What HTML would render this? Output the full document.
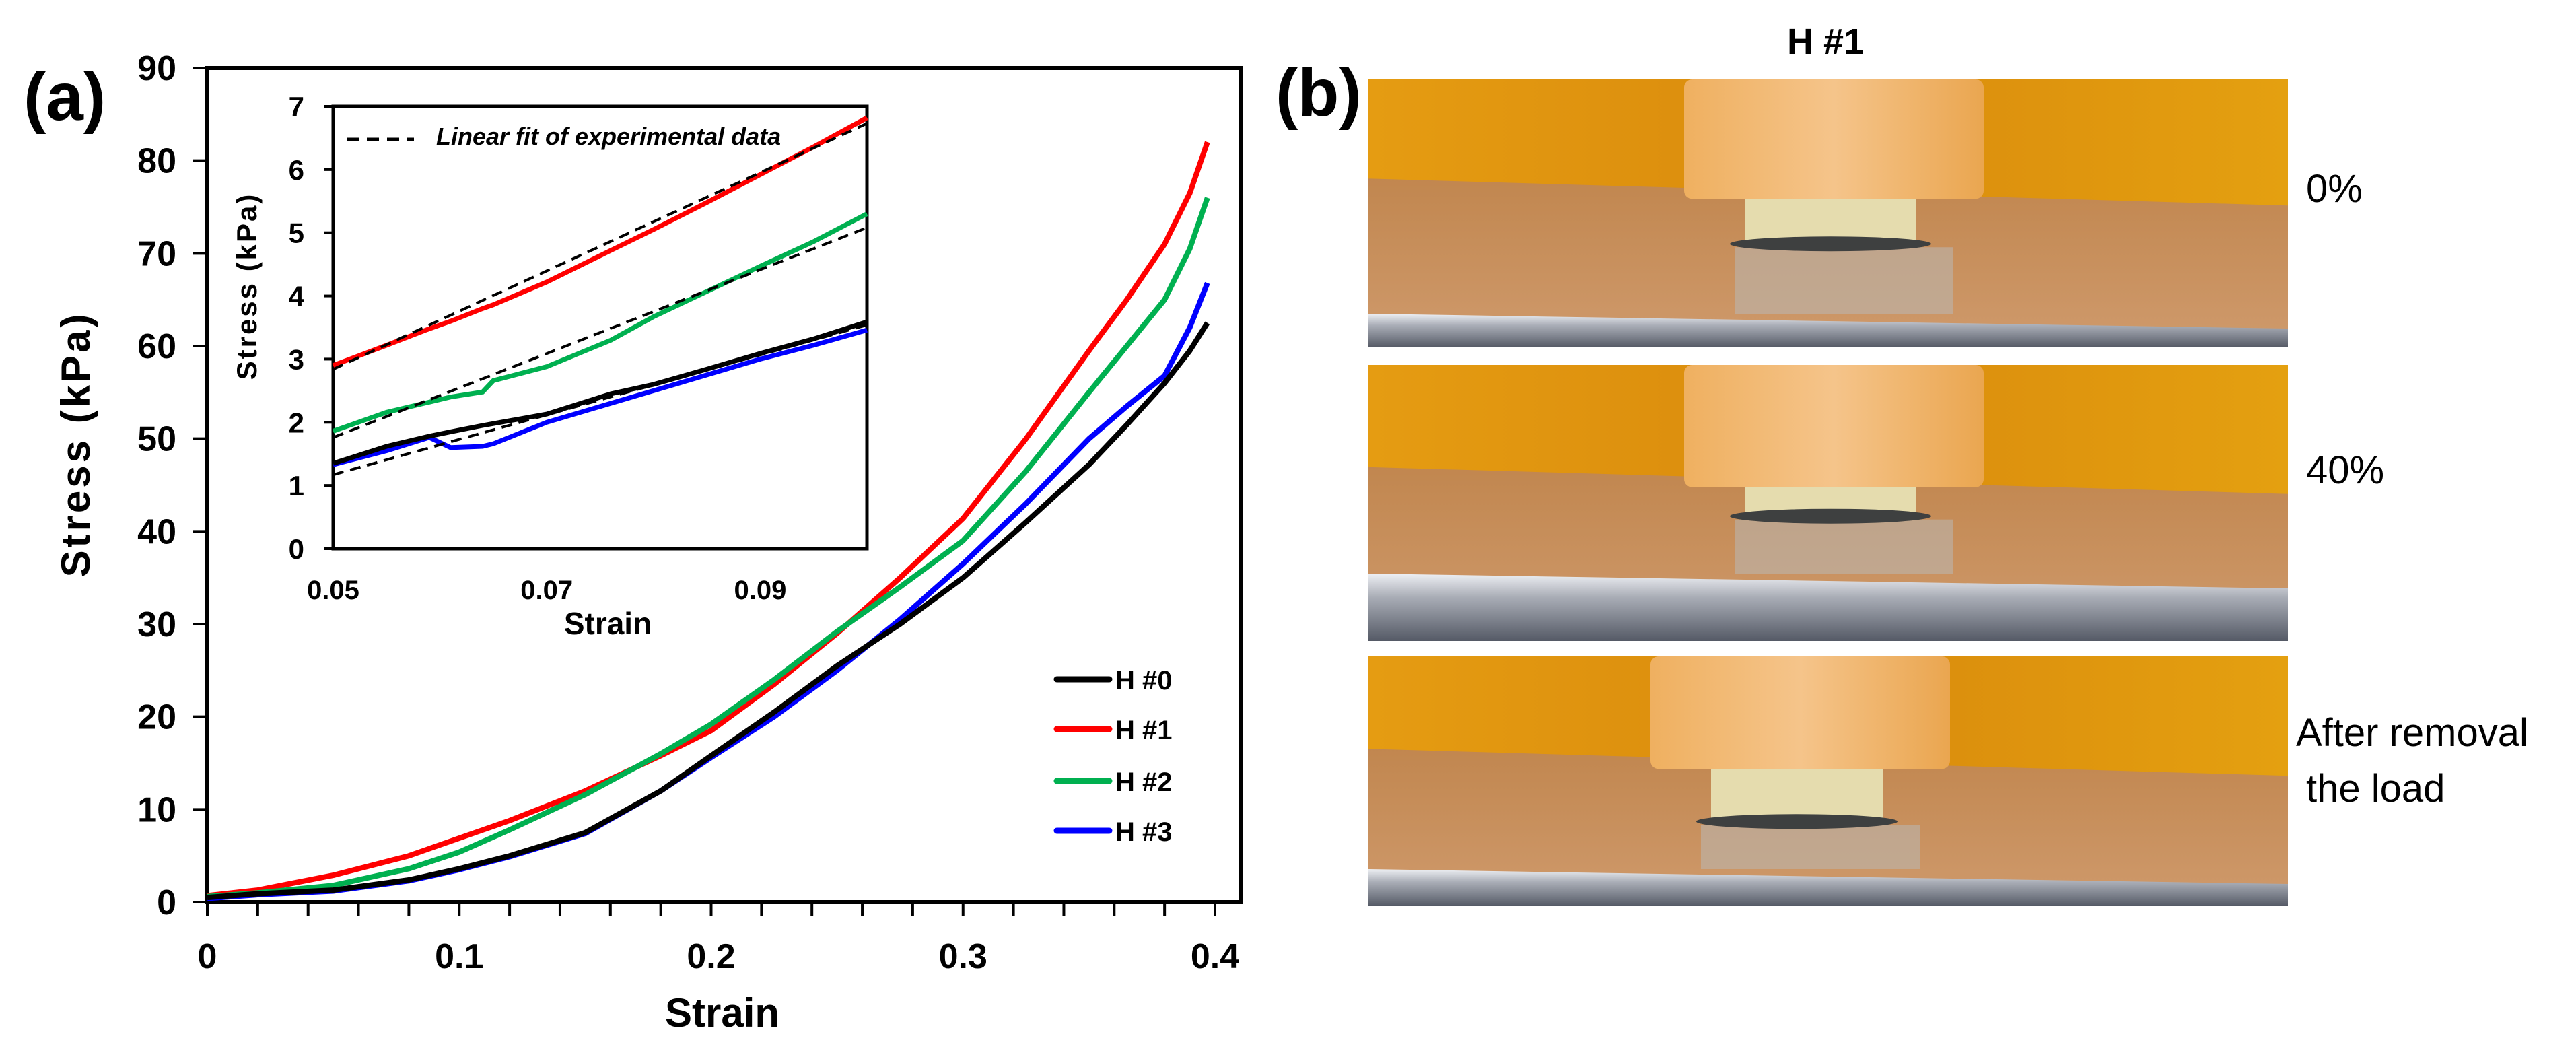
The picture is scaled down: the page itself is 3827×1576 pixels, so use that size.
<!DOCTYPE html>
<html><head><meta charset="utf-8"><style>
html,body{margin:0;padding:0;background:#fff;}
body{width:3827px;height:1571px;overflow:hidden;position:relative;font-family:"Liberation Sans",sans-serif;}
svg text{font-family:"Liberation Sans",sans-serif;}
</style></head><body>
<svg id="fig" width="3827" height="1571" viewBox="0 0 3827 1571" xmlns="http://www.w3.org/2000/svg">
<defs>
 <linearGradient id="bgOr" x1="0" y1="0" x2="1" y2="0"><stop offset="0" stop-color="#e59c12"/><stop offset="0.5" stop-color="#d98a0c"/><stop offset="1" stop-color="#e4a010"/></linearGradient>
 <linearGradient id="plat" x1="0" y1="0" x2="0" y2="1"><stop offset="0" stop-color="#b97b3e"/><stop offset="1" stop-color="#cf9a6c"/></linearGradient>
 <linearGradient id="plung" x1="0" y1="0" x2="1" y2="0"><stop offset="0" stop-color="#efb060"/><stop offset="0.5" stop-color="#f5c48a"/><stop offset="1" stop-color="#eaa650"/></linearGradient>
 <linearGradient id="strip" x1="0" y1="0" x2="0" y2="1"><stop offset="0" stop-color="#eef0f4"/><stop offset="0.35" stop-color="#a9adb6"/><stop offset="1" stop-color="#555a66"/></linearGradient>
</defs>
<g id="panelA"></g>
<g id="panelB"></g>
</svg>
<script>
// ---------- main chart data ----------
const strainMain = [0, 0.02, 0.05, 0.08, 0.1, 0.12, 0.15, 0.18, 0.2, 0.225, 0.25, 0.275, 0.3, 0.325, 0.35, 0.365, 0.38, 0.39, 0.397];
const stressH0 = [0.5, 0.9, 1.3, 2.4, 3.6, 5.0, 7.5, 12.0, 15.8, 20.5, 25.5, 30.0, 35.0, 41.0, 47.2, 51.5, 56.0, 59.5, 62.5];
const stressH1 = [0.7, 1.3, 2.9, 5.0, 6.9, 8.8, 12.0, 15.8, 18.5, 23.5, 29.0, 35.0, 41.4, 50.0, 59.5, 65.0, 71.0, 76.5, 82.0];
const stressH2 = [0.6, 1.0, 1.8, 3.6, 5.4, 7.8, 11.6, 16.0, 19.2, 24.0, 29.2, 34.0, 39.0, 46.5, 55.0, 60.0, 65.0, 70.5, 76.0];
const stressH3 = [0.4, 0.8, 1.2, 2.3, 3.5, 4.9, 7.4, 12.0, 15.6, 20.0, 25.0, 30.5, 36.5, 43.0, 50.0, 53.5, 56.8, 62.0, 66.8];
const mainXTicks = ["0", "0.1", "0.2", "0.3", "0.4"];
const mainYTicks = ["0","10","20","30","40","50","60","70","80","90"];
const legendLabels = ["H #0", "H #1", "H #2", "H #3"];
// ---------- inset data ----------
const strainInset = [0.05, 0.055, 0.059, 0.061, 0.064, 0.065, 0.07, 0.076, 0.08, 0.085, 0.09, 0.095, 0.1];
const insetH0 = [1.35, 1.62, 1.78, 1.85, 1.95, 1.98, 2.13, 2.45, 2.6, 2.84, 3.09, 3.32, 3.59];
const insetH1 = [2.9, 3.22, 3.48, 3.6, 3.8, 3.86, 4.22, 4.72, 5.05, 5.48, 5.92, 6.36, 6.82];
const insetH2 = [1.86, 2.16, 2.32, 2.4, 2.48, 2.66, 2.88, 3.3, 3.67, 4.07, 4.47, 4.86, 5.3];
const insetH3 = [1.33, 1.55, 1.76, 1.6, 1.62, 1.66, 2.0, 2.3, 2.5, 2.75, 3.0, 3.22, 3.46];
const fitStrain = [0.05, 0.1];
const fitH1 = [2.84, 6.73];
const fitH2 = [1.76, 5.08];
const fitH0 = [1.17, 3.54];
const insetXTicks = ["0.05", "0.07", "0.09"];
const insetYTicks = ["0","1","2","3","4","5","6","7"];
const photoLabels = ["0%", "40%"];

const NS = "http://www.w3.org/2000/svg";
function mk(tag, attrs, parent, txt){
  const e = document.createElementNS(NS, tag);
  for (const k in attrs) e.setAttribute(k, attrs[k]);
  if (txt !== undefined) e.textContent = txt;
  parent.appendChild(e);
  return e;
}
const A = document.getElementById('panelA');
const B = document.getElementById('panelB');

const mL = 308, mR = 1843, mT = 101, mB = 1340;
const mx = v => mL + (v / 0.4) * (1805 - 308);
const my = v => mB - (v / 90) * (mB - mT);
let t;
t = mk('text', {x: 35, y: 178, 'font-size': 100, 'font-weight': 'bold'}, A, '(a)');


let r = mk('rect', {x: mL, y: mT, width: mR - mL, height: mB - mT, fill: 'none', stroke: '#000', 'stroke-width': 6}, A);


for (let i = 0; i <= 20; i++) {
  const v = i * 0.02;
  const l = mk('line', {x1: mx(v), x2: mx(v), y1: mB, y2: mB + 20, stroke: '#000', 'stroke-width': 4}, A);
  
  
}
mainXTicks.forEach((s, i) => {
  const e = mk('text', {x: mx(i * 0.1), y: 1438, 'font-size': 52, 'font-weight': 'bold', 'text-anchor': 'middle'}, A, s);
  
  
});
mainYTicks.forEach((s, i) => {
  const v = i * 10;
  const l = mk('line', {x1: mL - 22, x2: mL, y1: my(v), y2: my(v), stroke: '#000', 'stroke-width': 4}, A);
  
  
  const e = mk('text', {x: 262, y: my(v) + 18, 'font-size': 52, 'font-weight': 'bold', 'text-anchor': 'end'}, A, s);
  
  
});
t = mk('text', {x: 1073, y: 1525, 'font-size': 60, 'font-weight': 'bold', 'text-anchor': 'middle'}, A, 'Strain');


t = mk('text', {x: 0, y: 0, 'font-size': 60, 'font-weight': 'bold', 'text-anchor': 'middle', transform: 'translate(133,660) rotate(-90)', 'letter-spacing': 4}, A, 'Stress (kPa)');



const colors = ['#000000', '#ff0000', '#00b050', '#0000ff'];
const mainSeries = [stressH0, stressH1, stressH2, stressH3];
[1, 2, 3, 0].forEach(k => {
  const d = strainMain.map((x, i) => (i ? 'L' : 'M') + mx(x).toFixed(1) + ' ' + my(mainSeries[k][i]).toFixed(1)).join(' ');
  const p = mk('path', {d: d, fill: 'none', stroke: colors[k], 'stroke-width': 8, 'stroke-linejoin': 'round'}, A);
  
  
});
const legY = [1009, 1083, 1160, 1234];
legendLabels.forEach((s, i) => {
  const l = mk('line', {x1: 1570, x2: 1648, y1: legY[i], y2: legY[i], stroke: colors[i], 'stroke-width': 9, 'stroke-linecap': 'round'}, A);
  
  
  const e = mk('text', {x: 1657, y: legY[i] + 15, 'font-size': 40, 'font-weight': 'bold'}, A, s);
  
  
});

const iL = 495, iR = 1288, iT = 158, iB = 815;
const ix = v => iL + (v - 0.05) / 0.05 * (iR - iL);
const iy = v => iB - v / 7 * (iB - iT);
const ig = mk('g', {}, A);


mk('rect', {x: iL, y: iT, width: iR - iL, height: iB - iT, fill: '#fff', stroke: '#000', 'stroke-width': 5}, ig);
insetYTicks.forEach((s, i) => {
  const l = mk('line', {x1: iL - 14, x2: iL, y1: iy(i), y2: iy(i), stroke: '#000', 'stroke-width': 4}, ig);
  
  
  const e = mk('text', {x: 452, y: iy(i) + 15, 'font-size': 42, 'font-weight': 'bold', 'text-anchor': 'end'}, ig, s);
  
  
});
insetXTicks.forEach((s, i) => {
  const v = 0.05 + i * 0.02;
  const e = mk('text', {x: ix(v), y: 890, 'font-size': 40, 'font-weight': 'bold', 'text-anchor': 'middle'}, ig, s);
  
  
});
t = mk('text', {x: 903, y: 942, 'font-size': 46, 'font-weight': 'bold', 'text-anchor': 'middle'}, ig, 'Strain');


t = mk('text', {x: 0, y: 0, 'font-size': 42, 'font-weight': 'bold', 'text-anchor': 'middle', transform: 'translate(381,425) rotate(-90)', 'letter-spacing': 3}, ig, 'Stress (kPa)');


const insetSeries = [insetH0, insetH1, insetH2, insetH3];
[2, 1, 3, 0].forEach(k => {
  const d = strainInset.map((x, i) => (i ? 'L' : 'M') + ix(x).toFixed(1) + ' ' + iy(insetSeries[k][i]).toFixed(1)).join(' ');
  const p = mk('path', {d: d, fill: 'none', stroke: colors[k], 'stroke-width': 7}, ig);
  
  
});
[fitH1, fitH2, fitH0].forEach(f => {
  const l = mk('line', {x1: ix(fitStrain[0]), y1: iy(f[0]), x2: ix(fitStrain[1]), y2: iy(f[1]), stroke: '#000', 'stroke-width': 4, 'stroke-dasharray': '16 10'}, ig);
  
  
});
let ll = mk('line', {x1: 515, x2: 615, y1: 207, y2: 207, stroke: '#000', 'stroke-width': 5, 'stroke-dasharray': '18 12'}, ig);


t = mk('text', {x: 648, y: 215, 'font-size': 36, 'font-weight': 'bold', 'font-style': 'italic'}, ig, 'Linear fit of experimental data');



t = mk('text', {x: 1895, y: 172, 'font-size': 100, 'font-weight': 'bold'}, B, '(b)');


t = mk('text', {x: 2712, y: 80, 'font-size': 54, 'font-weight': 'bold', 'text-anchor': 'middle'}, B, 'H #1');


function photo(y0, h, foamH, plX, stripH, name){
  const g = mk('g', {}, B);
  
  
  const x0 = 2032, w = 1367;
  const horizon = y0 + h * 0.37;
  mk('rect', {x: x0, y: y0, width: w, height: h, fill: 'url(#plat)'}, g);
  mk('path', {d: `M${x0} ${y0} H${x0 + w} V${horizon + 40} L${x0} ${horizon} Z`, fill: 'url(#bgOr)'}, g);
  const plB = horizon + 30;
  mk('rect', {x: x0 + plX, y: y0, width: 445, height: plB - y0, fill: 'url(#plung)', rx: 12}, g);
  const fx = x0 + plX + 90, fw = 255;
  mk('rect', {x: fx, y: plB, width: fw, height: foamH, fill: '#e5dcae'}, g);
  mk('rect', {x: fx - 15, y: plB + foamH + 8, width: fw + 70, height: y0 + h - stripH - (plB + foamH + 8), fill: '#b9b8b4', opacity: 0.55}, g);
  mk('ellipse', {cx: fx + fw / 2, cy: plB + foamH + 3, rx: fw / 2 + 22, ry: 11, fill: '#3e4040'}, g);
  mk('path', {d: `M${x0} ${y0 + h - stripH} L${x0 + w} ${y0 + h - stripH + 22} V${y0 + h} H${x0} Z`, fill: 'url(#strip)'}, g);
}
photo(118, 398, 64, 470, 50, 'photo-0-percent');
photo(542, 410, 40, 470, 100, 'photo-40-percent');
photo(975, 371, 75, 420, 55, 'photo-after-removal');
const plY = [300, 718];
photoLabels.forEach((s, i) => {
  const e = mk('text', {x: 3426, y: plY[i], 'font-size': 58}, B, s);
  
  
});
t = mk('text', {x: 3411, y: 1108, 'font-size': 58}, B, 'After removal');


t = mk('text', {x: 3426, y: 1191, 'font-size': 58}, B, 'the load');


</script>
</body></html>
